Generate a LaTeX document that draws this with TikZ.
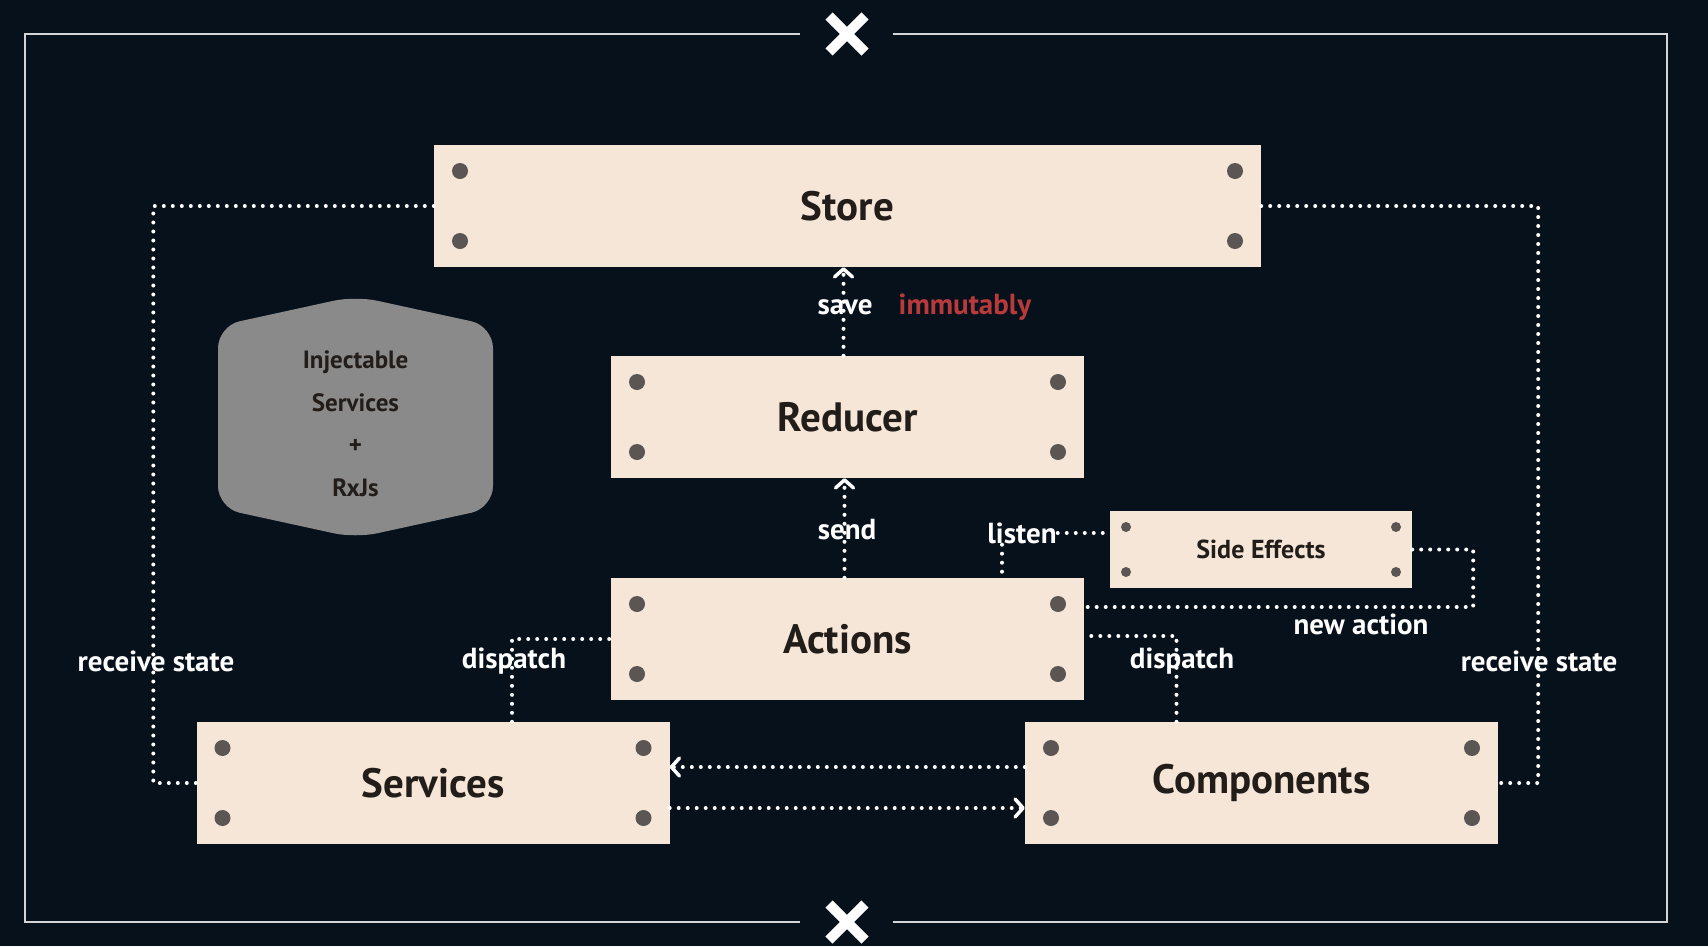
\documentclass[tikz,border=0pt]{standalone}
\usepackage{fontspec}
\setmainfont{PT Sans}
\usepackage{xcolor}
\usetikzlibrary{arrows.meta}
\definecolor{bgnavy}{HTML}{07111B}
\definecolor{boxbeige}{HTML}{F5E6D8}
\definecolor{boxtext}{HTML}{231D1A}
\definecolor{dotgray}{HTML}{5B5653}
\definecolor{hexgray}{HTML}{8A8A8B}
\definecolor{immured}{HTML}{B83A3B}
\definecolor{framegray}{HTML}{D2D4D6}

\begin{document}
\begin{tikzpicture}[x=1pt,y=-1pt,
	corner dots/.style 2 args={path picture={
		\fill[dotgray] ([shift={(#1,-#1)}]path picture bounding box.north west) circle[radius=#2]
		([shift={(-#1,-#1)}]path picture bounding box.north east) circle[radius=#2]
		([shift={(#1,#1)}]path picture bounding box.south west) circle[radius=#2]
		([shift={(-#1,#1)}]path picture bounding box.south east) circle[radius=#2];}},
	main node/.style={rectangle, fill=boxbeige, text=boxtext, inner sep=0pt,
		minimum width=473pt, minimum height=122pt,
		font=\bfseries\fontsize{41}{48}\selectfont, corner dots={26pt}{8pt}},
	small node/.style={rectangle, fill=boxbeige, text=boxtext, inner sep=0pt,
		minimum width=302pt, minimum height=77pt,
		font=\bfseries\fontsize{26}{32}\selectfont, corner dots={16pt}{5pt}},
	label node/.style={text=white, inner sep=1pt, font=\bfseries\fontsize{29}{34}\selectfont},
	dot line/.style={white, line width=4pt, line cap=round, dash pattern=on 0pt off 9pt},
	>={Straight Barb[length=8pt,width=18pt,line width=3.5pt,round]}]
	
	% Background and frame
	\useasboundingbox (0,0) rectangle (1708,946);
	\fill[bgnavy] (0,0) rectangle (1708,946);
	\draw[framegray, line width=2pt] (800,34) -| (25,922) -- (800,922);
	\draw[framegray, line width=2pt] (893,34) -| (1667,922) -- (893,922);
	\draw[white, line width=10pt] (847,34) +(-18,-18) -- +(18,18) +(-18,18) -- +(18,-18);
	\draw[white, line width=10pt] (847,922) +(-18,-18) -- +(18,18) +(-18,18) -- +(18,-18);
	
	% Hexagon
	\fill[hexgray, rounded corners=22pt] (355.5,296) -- (493,326) -- (493,508) -- (355.5,538) -- (218,508) -- (218,326) -- cycle;
	\node[text=boxtext, align=center, font=\bfseries\fontsize{25}{42.5}\selectfont] (inject) at (355.5,424) {Injectable\\Services\\+\\RxJs};
	
	% Nodes
	\node[main node, minimum width=827pt] (store) at (847.5,206) {Store};
	\node[main node] (reducer) at (847.5,417) {Reducer};
	\node[main node] (actions) at (847.5,639) {Actions};
	\node[small node] (side) at (1261,549.5) {Side Effects};
	\node[main node] (services) at (433,783) {Services};
	\node[main node] (components) at (1261.5,783) {Components};
	\node[label node] (listen) at (1022,533) {listen};
	
	% Connectors
	\draw[dot line] (store.west) -| ([xshift=-43pt]services.west) -- (services.west);
	\draw[dot line] (store.east) -| ([xshift=40pt]components.east) -- (components.east);
	\draw[dot line, ->] ([xshift=-4pt]reducer.north) -- ([xshift=-4pt]store.south);
	\draw[dot line, ->] ([xshift=-3pt]actions.north) -- ([xshift=-3pt]reducer.south);
	\draw[dot line] (listen.east) -- (listen.east -| side.west);
	\draw[dot line] ([xshift=-20pt]listen.south) -- ([xshift=-20pt]listen.south |- actions.north);
	\draw[dot line] (side.east) -- ++(61,0) |- ([yshift=32pt]actions.east);
	\draw[dot line] ([xshift=79pt]services.north) |- (actions.west);
	\draw[dot line] ([xshift=-85pt]components.north) |- ([yshift=3pt]actions.east);
	\draw[dot line, ->] ([yshift=16pt]components.west) -- ([yshift=16pt]services.east);
	\draw[dot line, ->] ([yshift=-25pt]services.east) -- ([yshift=-25pt]components.west);
	
	% Labels
	\node[label node] (savelbl) at (845,307) {save};
	\node[label node, text=immured] (immut) at (965,307) {immutably};
	\node[label node] (sendlbl) at (847,530) {send};
	\node[label node] (newact) at (1361,624) {new action};
	\node[label node] (displeft) at (514,661) {dispatch};
	\node[label node] (dispright) at (1182,661) {dispatch};
	\node[label node] (recvleft) at (156,661) {receive state};
	\node[label node] (recvright) at (1539,661) {receive state};
	
\end{tikzpicture}
\end{document}
